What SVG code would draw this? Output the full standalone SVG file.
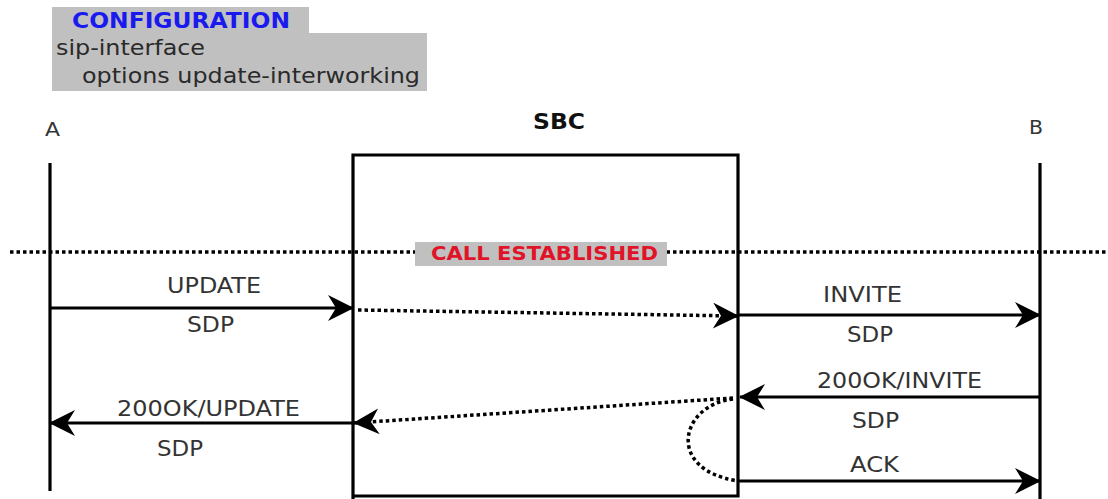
<svg xmlns="http://www.w3.org/2000/svg" width="1108" height="499" viewBox="0 0 1108 499">
<defs>
<style>
.lbl{font-family:"DejaVu Sans","Liberation Sans",sans-serif;font-size:21px;fill:#333}
.hdr{font-family:"DejaVu Sans","Liberation Sans",sans-serif;font-size:19px;fill:#333}
.bold{font-weight:bold}
.solid{stroke:#000;stroke-width:3.2;fill:none}
.dot{stroke:#000;stroke-width:3.5;fill:none;stroke-dasharray:3.5 3}
.gray{fill:#c0c0c0}
</style>
<marker id="arr" markerUnits="userSpaceOnUse" markerWidth="28" markerHeight="26" viewBox="0 0 28 26" refX="27" refY="13" orient="auto">
<path d="M28,13 L2,0 L10,13 L2,26 Z" fill="#000"/>
</marker>
</defs>
<rect width="1108" height="499" fill="#fff"/>

<g id="configuration">
<rect class="gray" x="52" y="7" width="257" height="27"/>
<rect class="gray" x="52" y="33" width="375" height="58"/>
<text x="72" y="28" class="lbl bold" style="fill:#1a1aee;font-size:21px" textLength="218" lengthAdjust="spacingAndGlyphs">CONFIGURATION</text>
<text x="56" y="55" class="lbl" style="fill:#2a2a2a;font-size:22px" textLength="149" lengthAdjust="spacingAndGlyphs">sip-interface</text>
<text x="82" y="83" class="lbl" style="fill:#2a2a2a;font-size:22px" textLength="338" lengthAdjust="spacingAndGlyphs">options update-interworking</text>
</g>

<g id="call-established">
<line class="dot" x1="10" y1="252" x2="1108" y2="252"/>
<rect class="gray" x="415" y="242" width="252" height="24"/>
<text x="431" y="260" class="lbl bold" style="fill:#e01428;font-size:20px" textLength="227" lengthAdjust="spacingAndGlyphs">CALL ESTABLISHED</text>
</g>

<g id="A">
<text x="45" y="136" class="hdr" textLength="15" lengthAdjust="spacingAndGlyphs">A</text>
<line class="solid" x1="50" y1="163" x2="50" y2="491"/>
</g>

<g id="SBC">
<text x="533" y="129" class="hdr bold" style="font-size:22px;fill:#111" textLength="52" lengthAdjust="spacingAndGlyphs">SBC</text>
<path class="solid" d="M353,499 V155 H738 V496 H353"/>
</g>

<g id="B">
<text x="1029" y="134" class="hdr" textLength="14" lengthAdjust="spacingAndGlyphs">B</text>
<line class="solid" x1="1040" y1="163" x2="1040" y2="499"/>
</g>

<g id="connectors">
<line class="solid" x1="50" y1="308" x2="353" y2="308" marker-end="url(#arr)"/>
<path class="dot" d="M358,310 L738,316" marker-end="url(#arr)"/>
<line class="solid" x1="738" y1="315" x2="1040" y2="315" marker-end="url(#arr)"/>
<line class="solid" x1="1040" y1="397" x2="740" y2="397" marker-end="url(#arr)"/>
<path class="dot" d="M733,398 L354,423" marker-end="url(#arr)"/>
<path class="dot" d="M733,399 C680,405 665,470 738,481"/>
<line class="solid" x1="738" y1="481" x2="1040" y2="481" marker-end="url(#arr)"/>
<line class="solid" x1="353" y1="423" x2="50" y2="423" marker-end="url(#arr)"/>

<text x="167" y="293" class="lbl" textLength="94" lengthAdjust="spacingAndGlyphs">UPDATE</text>
<text x="187" y="332" class="lbl" textLength="47" lengthAdjust="spacingAndGlyphs">SDP</text>
<text x="823" y="302" class="lbl" textLength="79" lengthAdjust="spacingAndGlyphs">INVITE</text>
<text x="847" y="342" class="lbl" textLength="46" lengthAdjust="spacingAndGlyphs">SDP</text>
<text x="817" y="388" class="lbl" textLength="165" lengthAdjust="spacingAndGlyphs">200OK/INVITE</text>
<text x="852" y="428" class="lbl" textLength="47" lengthAdjust="spacingAndGlyphs">SDP</text>
<text x="850" y="472" class="lbl" textLength="49" lengthAdjust="spacingAndGlyphs">ACK</text>
<text x="117" y="416" class="lbl" textLength="183" lengthAdjust="spacingAndGlyphs">200OK/UPDATE</text>
<text x="157" y="456" class="lbl" textLength="46" lengthAdjust="spacingAndGlyphs">SDP</text>
</g>
</svg>
